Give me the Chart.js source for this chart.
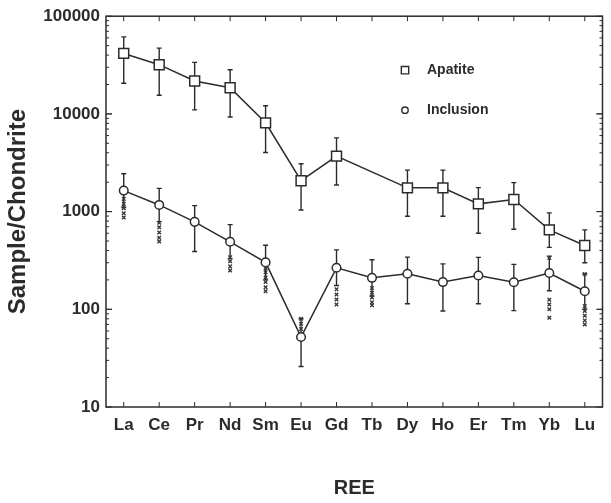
<!DOCTYPE html>
<html>
<head>
<meta charset="utf-8">
<script src="https://cdn.jsdelivr.net/npm/chart.js@4"></script>
<style>
    body { margin: 0; background: #fff; }
    #wrap { width: 611px; height: 503px; }
</style>
</head>
<body>
<div id="wrap"><canvas id="reeChart"></canvas></div>
<script>
// REE pattern: apatite vs inclusion, chondrite normalised
const elements = ["La", "Ce", "Pr", "Nd", "Sm", "Eu", "Gd", "Tb", "Dy", "Ho", "Er", "Tm", "Yb", "Lu"];
const yTicks = [10, 100, 1000, 10000, 100000];

const apatite   = [41600, 31900, 21700, 18500, 8100, 2070, 3700, null, 1750, 1750, 1200, 1330, 650, 450];
const apatiteHi = [61500, 47100, 33700, 28300, 12100, 3090, 5690, null, 2660, 2660, 1760, 1980, 970, 650];
const apatiteLo = [20600, 15500, 11000, 9300, 4030, 1040, 1870, null, 895, 895, 600, 660, 430, 300];

const inclusion   = [1640, 1170, 785, 491, 302, 52, 266, 210, 231, 190, 222, 189, 235, 153];
const inclusionHi = [2440, 1730, 1150, 736, 453, 80, 406, 321, 342, 292, 340, 288, 350, 231];
const inclusionLo = [1100, 790, 390, 330, 200, 26, 175, 137, 114, 96, 114, 97, 155, 100];

// single spot analyses (small x marks)
const spotEls  = ["La", "La", "La", "La", "La", "Ce", "Ce", "Ce", "Ce", "Ce", "Nd", "Nd", "Nd", "Nd",
                  "Sm", "Sm", "Sm", "Sm", "Sm", "Sm", "Eu", "Eu", "Eu", "Gd", "Gd", "Gd", "Gd",
                  "Tb", "Tb", "Tb", "Tb", "Tb", "Yb", "Yb", "Yb", "Yb", "Yb", "Lu", "Lu", "Lu", "Lu", "Lu", "Lu"];
const spotVals = [1350, 1200, 1080, 960, 870, 770, 690, 610, 540, 495, 340, 310, 275, 250,
                  265, 240, 212, 190, 168, 153, 80, 71, 63, 160, 142, 126, 112,
                  165, 148, 132, 118, 110, 335, 125, 112, 100, 82, 230, 108, 96, 86, 77, 70];

const ink = "#2b2b2b";
const fontFamily = "'Liberation Sans', Arial, sans-serif";

// error bars under the points
const errorBars = {
    id: "errorBars",
    beforeDatasetsDraw(chart) {
        const { ctx } = chart;
        const xs = chart.scales.x, ys = chart.scales.y;
        const sets = [[apatite, apatiteHi, apatiteLo], [inclusion, inclusionHi, inclusionLo]];
        ctx.save();
        ctx.strokeStyle = ink;
        ctx.lineWidth = 1.4;
        sets.forEach(([vals, hi, lo]) => {
            vals.forEach((v, i) => {
                if (v == null) return;
                const x = xs.getPixelForValue(i);
                const yh = ys.getPixelForValue(hi[i]);
                const yl = ys.getPixelForValue(lo[i]);
                ctx.beginPath();
                ctx.moveTo(x, yh); ctx.lineTo(x, yl);
                ctx.moveTo(x - 2.5, yh); ctx.lineTo(x + 2.5, yh);
                ctx.moveTo(x - 2.5, yl); ctx.lineTo(x + 2.5, yl);
                ctx.stroke();
            });
        });
        ctx.restore();
    }
};

// frame with inward ticks on all four sides, plus the in-plot legend
const frameAndLegend = {
    id: "frameAndLegend",
    afterDraw(chart) {
        const { ctx, chartArea: a } = chart;
        const xs = chart.scales.x, ys = chart.scales.y;
        ctx.save();
        ctx.strokeStyle = ink;
        ctx.lineWidth = 1.5;
        ctx.strokeRect(a.left, a.top, a.right - a.left, a.bottom - a.top);

        ctx.lineWidth = 1;
        ctx.beginPath();
        for (let p = 10; p < 100000; p *= 10) {
            for (let m = 1; m <= 10; m++) {
                const y = ys.getPixelForValue(m * p);
                const len = (m === 1 || m === 10) ? 6 : 3;
                ctx.moveTo(a.left, y); ctx.lineTo(a.left + len, y);
                ctx.moveTo(a.right, y); ctx.lineTo(a.right - len, y);
            }
        }
        elements.forEach((el, i) => {
            const x = xs.getPixelForValue(i);
            ctx.moveTo(x, a.bottom); ctx.lineTo(x, a.bottom - 5);
            ctx.moveTo(x, a.top); ctx.lineTo(x, a.top + 5);
        });
        ctx.stroke();

        // legend
        const lx = a.left + 299, ly = a.top + 54;
        chart.data.datasets.filter(d => d.inLegend).forEach((d, k) => {
            const y = ly + k * 40;
            ctx.lineWidth = 1.4;
            ctx.strokeStyle = ink;
            ctx.fillStyle = "#fff";
            Chart.helpers.drawPoint(ctx, {
                pointStyle: d.pointStyle,
                radius: d.pointStyle === "rect" ? 5.2 : 3.2,
                rotation: 0,
                borderWidth: 1.4,
            }, lx, y);
            ctx.fillStyle = ink;
            ctx.font = "bold 14px " + fontFamily;
            ctx.textBaseline = "middle";
            ctx.fillText(d.label, lx + 22, y);
        });
        ctx.restore();
    }
};

const ctx = document.getElementById("reeChart").getContext("2d");
new Chart(ctx, {
    type: "line",
    data: {
        labels: elements,
        datasets: [
            {
                label: "spots",
                data: spotEls.map((el, i) => ({ x: el, y: spotVals[i] })),
                showLine: false,
                pointStyle: "crossRot",
                pointRadius: 2.5,
                pointBorderWidth: 1.4,
                borderColor: "#3a3a3a",
                pointHoverRadius: 0,
            },
            {
                label: "Apatite",
                inLegend: true,
                data: apatite,
                spanGaps: true,
                borderColor: ink,
                borderWidth: 1.5,
                pointStyle: "rect",
                pointRadius: 7,
                pointBorderWidth: 1.5,
                pointBackgroundColor: "#fff",
                pointBorderColor: ink,
            },
            {
                label: "Inclusion",
                inLegend: true,
                data: inclusion,
                borderColor: ink,
                borderWidth: 1.5,
                pointStyle: "circle",
                pointRadius: 4.3,
                pointBorderWidth: 1.5,
                pointBackgroundColor: "#fff",
                pointBorderColor: ink,
            },
        ],
    },
    options: {
        responsive: true,
        maintainAspectRatio: false,
        animation: false,
        layout: { padding: { top: 15, right: 2, left: 0, bottom: 0 } },
        plugins: {
            legend: { display: false },
            tooltip: { enabled: false },
        },
        scales: {
            x: {
                type: "category",
                offset: true,
                grid: { display: false, drawTicks: false },
                border: { display: false },
                ticks: {
                    color: ink,
                    padding: 8,
                    maxRotation: 0,
                    font: { family: fontFamily, size: 17, weight: "bold" },
                },
                title: {
                    display: true,
                    text: "REE",
                    color: ink,
                    padding: { top: 0, bottom: 3 },
                    font: { family: fontFamily, size: 20, weight: "bold" },
                },
                afterFit: scale => { scale.height = 96; },
            },
            y: {
                type: "logarithmic",
                min: 10,
                max: 100000,
                grid: { display: false, drawTicks: false },
                border: { display: false },
                afterBuildTicks: scale => { scale.ticks = yTicks.map(v => ({ value: v })); },
                ticks: {
                    color: ink,
                    padding: 6,
                    font: { family: fontFamily, size: 17, weight: "bold" },
                    callback: v => String(v),
                },
                title: {
                    display: true,
                    text: "Sample/Chondrite",
                    color: ink,
                    padding: { top: 4, bottom: 0 },
                    font: { family: fontFamily, size: 24, weight: "bold" },
                },
                afterFit: scale => { scale.width = 106; },
            },
        },
    },
    plugins: [errorBars, frameAndLegend],
});
</script>
</body>
</html>
